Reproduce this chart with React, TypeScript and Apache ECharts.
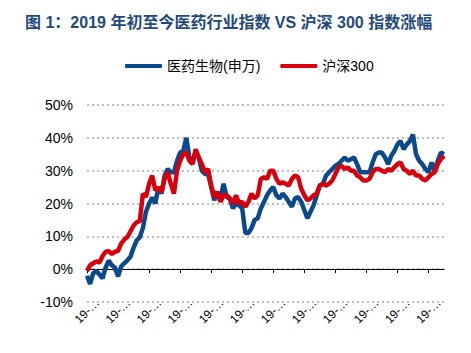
import React, { useEffect, useRef } from "react";
import * as echarts from "echarts";

const titleText = "图 1：2019 年初至今医药行业指数 VS 沪深 300 指数涨幅";
const seriesNames = ["医药生物(申万)", "沪深300"];

const dates = [
  "19-01-02", "19-01-04", "19-01-08", "19-01-10", "19-01-14", "19-01-16", "19-01-18", "19-01-22", "19-01-24", "19-01-28", "19-01-30",
  "19-02-01", "19-02-12", "19-02-14", "19-02-18", "19-02-20", "19-02-22", "19-02-26", "19-02-28",
  "19-03-04", "19-03-06", "19-03-08", "19-03-12", "19-03-14", "19-03-18", "19-03-20", "19-03-22", "19-03-26", "19-03-28",
  "19-04-01", "19-04-03", "19-04-08", "19-04-10", "19-04-12", "19-04-16", "19-04-18", "19-04-22", "19-04-24", "19-04-26", "19-04-30",
  "19-05-06", "19-05-08", "19-05-10", "19-05-14", "19-05-16", "19-05-20", "19-05-22", "19-05-24", "19-05-28", "19-05-30",
  "19-06-03", "19-06-05", "19-06-10", "19-06-12", "19-06-14", "19-06-18", "19-06-20", "19-06-24", "19-06-26", "19-06-28",
  "19-07-02", "19-07-04", "19-07-08", "19-07-10", "19-07-12", "19-07-16", "19-07-18", "19-07-22", "19-07-24", "19-07-26", "19-07-30",
  "19-08-01", "19-08-05", "19-08-07", "19-08-09", "19-08-13", "19-08-15", "19-08-19", "19-08-21", "19-08-23", "19-08-27", "19-08-29",
  "19-09-02", "19-09-04", "19-09-06", "19-09-10", "19-09-12", "19-09-17", "19-09-19", "19-09-23", "19-09-25", "19-09-27",
  "19-10-08", "19-10-10", "19-10-14", "19-10-16", "19-10-18", "19-10-22", "19-10-24", "19-10-28", "19-10-30",
  "19-11-01", "19-11-05", "19-11-07", "19-11-11", "19-11-13", "19-11-15", "19-11-19", "19-11-21", "19-11-25", "19-11-27", "19-11-29",
  "19-12-03", "19-12-05", "19-12-09", "19-12-11",
];

// 医药生物(申万) cumulative change, %
const pharma = [
  -2, -4.5, -1.2, -0.6, -1.6, -2.8, 0.5, 2.6, 1.2, 0.5,
  -2.2, 0.8, 1.8, 2.7, 3.8, 6.5, 8.8, 9.7, 12.5, 17.5,
  20, 21.8, 20, 25, 23, 28.5, 30.5, 29.5, 29.5, 33,
  35.5, 36, 40, 34, 32.5, 36, 34, 30, 29, 29,
  25, 21, 23.5, 21.5, 26, 22, 21.5, 18.5, 20, 19.5,
  18.5, 11, 11, 12.5, 15, 15.5, 18.5, 20.5, 22.5, 24,
  25, 22.5, 21.5, 23, 22, 20.5, 19, 21.5, 22, 20.5,
  18, 15.5, 17.5, 19.5, 22.5, 25.5, 26, 28.5, 29.5, 30.5,
  31.5, 32, 33, 34, 33, 33.5, 34, 32, 29.5, 29.5,
  29.5, 29.5, 32.5, 35, 35.5, 35.5, 34, 32, 34.5, 36,
  38, 39, 36.5, 38, 39, 41, 35, 33, 32, 30.5,
  29.5, 32.5, 30, 33, 35.5, 35,
];

// 沪深300 cumulative change, %
const csi300 = [
  -0.5, 1.2, 1.8, 2.4, 2.0, 4.0, 5.3, 5.5, 4.6, 5.3,
  5.6, 7.8, 9.0, 9.8, 11.5, 13.3, 14.3, 14.6, 23, 22,
  26, 28.5, 24, 24.8, 23.5, 27.5, 29.5, 26, 23, 30,
  33, 35, 35.5, 33, 32, 36.5, 34, 32, 29.5, 30.5,
  25.5, 22, 23.5, 20.5, 22.5, 22.5, 21.5, 20, 22.5, 20,
  20.5, 19, 20.5, 23, 21.5, 22.5, 27.5, 28, 27.5, 30,
  30, 27.5, 26, 26.5, 26, 25.5, 27.5, 28.5, 28, 24.5,
  22.5, 21, 21.5, 22.5, 23, 25.5, 26, 25.5, 26, 27,
  29, 31, 31.5, 30.5, 31, 30, 30, 28.5, 28, 27,
  27, 27.5, 29.5, 30.5, 30.5, 30, 29.5, 30.5, 30, 31,
  32, 32.5, 30.5, 30, 29, 30, 28.5, 28.5, 27.5, 27,
  28, 29, 29.5, 32, 33.5, 34.5,
];

const yTicks = { min: -10, max: 50, interval: 10 };

const FONT = "'Liberation Sans', 'Noto Sans CJK SC', sans-serif";

export default function App() {
  const ref = useRef<HTMLDivElement>(null);
  useEffect(() => {
    if (!ref.current) return;
    const chart = echarts.init(ref.current, undefined, { renderer: "svg" });
    chart.setOption({
      animation: false,
      backgroundColor: "#ffffff",
      title: {
        text: titleText,
        left: 20,
        top: 9,
        textStyle: {
          fontSize: 16,
          fontWeight: "bold",
          color: "#23497a",
          fontFamily: FONT,
        },
      },
      legend: {
        left: 120,
        top: 54,
        itemWidth: 37,
        itemHeight: 4,
        itemGap: 20,
        icon: "roundRect",
        textStyle: { fontSize: 14, color: "#000", fontFamily: FONT },
        data: seriesNames,
      },
      grid: { left: 87, right: 27, top: 105, bottom: 51, containLabel: false },
      xAxis: {
        type: "category",
        data: dates,
        boundaryGap: false,
        axisLine: { lineStyle: { color: "#000", width: 1 } },
        axisTick: { show: true, interval: 9, length: 4, lineStyle: { color: "#000" } },
        axisLabel: {
          interval: 9,
          rotate: 45,
          align: "center",
          verticalAlign: "middle",
          margin: 9,
          fontSize: 12,
          color: "#000",
          fontFamily: FONT,
          formatter: (v: string) => v.slice(0, 3) + "…",
        },
        splitLine: { show: false },
      },
      yAxis: {
        type: "value",
        min: yTicks.min,
        max: yTicks.max,
        interval: yTicks.interval,
        axisLine: { show: false },
        axisTick: { show: false },
        axisLabel: {
          formatter: "{value}%",
          fontSize: 14,
          color: "#000",
          margin: 14,
          fontFamily: FONT,
        },
        splitLine: {
          lineStyle: { color: "#bfbfbf", width: 2, type: [2, 3] },
        },
      },
      series: [
        {
          name: seriesNames[0],
          type: "line",
          data: pharma,
          symbol: "none",
          lineStyle: { color: "#0a4a8c", width: 4.5 },
          itemStyle: { color: "#0a4a8c" },
        },
        {
          name: seriesNames[1],
          type: "line",
          data: csi300,
          symbol: "none",
          lineStyle: { color: "#d9000d", width: 4.5 },
          itemStyle: { color: "#d9000d" },
        },
      ],
    });
    return () => chart.dispose();
  }, []);
  return <div ref={ref} style={{ width: 471, height: 353, margin: -8 }} />;
}
